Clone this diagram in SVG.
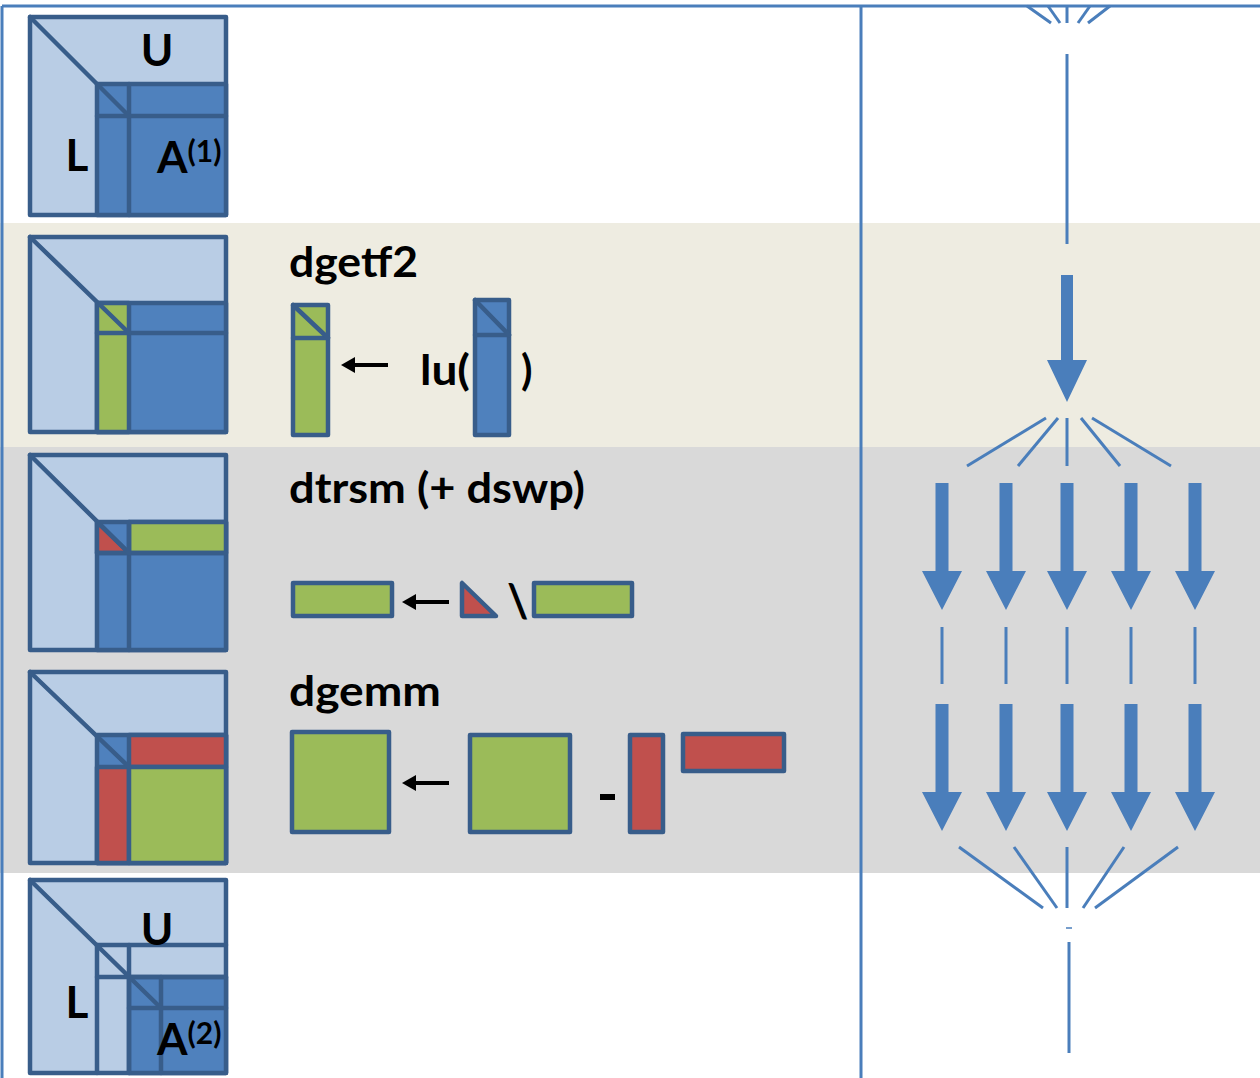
<svg xmlns="http://www.w3.org/2000/svg" width="1260" height="1078" viewBox="0 0 1260 1078">
<style>
.lb{fill:#B9CDE5;stroke:#385D8A;stroke-width:4.5;stroke-linejoin:round}
.mb{fill:#4F81BD;stroke:#385D8A;stroke-width:4.5;stroke-linejoin:round}
.gr{fill:#9BBB59;stroke:#385D8A;stroke-width:4.5;stroke-linejoin:round}
.rd{fill:#C0504D;stroke:#385D8A;stroke-width:4.5;stroke-linejoin:round}
.ln{stroke:#385D8A;stroke-width:4.5;fill:none;stroke-linecap:round}
.t{font-family:Lato,"Open Sans","Liberation Sans",sans-serif;font-weight:bold;fill:#000}
.big{font-size:44px}
.sup{font-size:30px}
.lbl{font-size:42px}
.c{stroke:#4A7EBB;stroke-width:3;fill:none}
.ba{fill:#4A7EBB}
.ar{stroke:#000;stroke-width:4}
</style>
<rect x="0" y="0" width="1260" height="1078" fill="#FFFFFF"/>
<rect x="0" y="223" width="1260" height="224" fill="#EEECE1"/>
<rect x="0" y="447" width="1260" height="426" fill="#D9D9D9"/>
<g id="frame" class="c" stroke="#4F81BD">
<line x1="2" y1="6" x2="1260" y2="6"/>
<line x1="2" y1="6" x2="2" y2="1078"/>
<line x1="861" y1="6" x2="861" y2="1078"/>
</g>
<g id="row1-matrix">
<rect class="lb" x="30" y="17" width="196" height="198"/>
<rect class="mb" x="97" y="84" width="129" height="131"/>
<line class="ln" x1="129" y1="84" x2="129" y2="215"/>
<line class="ln" x1="97" y1="116" x2="226" y2="116"/>
<line class="ln" x1="30" y1="17" x2="129" y2="116"/>
<text class="t big" x="157" y="66" text-anchor="middle">U</text>
<text class="t big" x="77" y="171" text-anchor="middle">L</text>
<text class="t big" x="157" y="173">A<tspan class="sup" dy="-11">(1)</tspan></text>
</g>
<g id="row2-matrix">
<rect class="lb" x="30" y="237" width="196" height="195"/>
<rect class="mb" x="97" y="303" width="129" height="129"/>
<rect class="gr" x="97" y="303" width="32" height="129"/>
<line class="ln" x1="97" y1="333" x2="226" y2="333"/>
<line class="ln" x1="30" y1="237" x2="129" y2="333"/>
</g>
<g id="row2-dgetf2">
<text class="t lbl" x="289" y="277" textLength="129" lengthAdjust="spacingAndGlyphs">dgetf2</text>
<rect class="gr" x="293" y="305" width="35" height="130"/>
<line class="ln" x1="293" y1="338" x2="328" y2="338"/>
<line class="ln" x1="293" y1="305" x2="328" y2="338"/>
<line class="ar" x1="352" y1="365" x2="388" y2="365"/>
<polygon points="341,365 355,357 355,373" fill="#000"/>
<text class="t lbl" x="420" y="385" textLength="50" lengthAdjust="spacingAndGlyphs">lu(</text>
<rect class="mb" x="475" y="300" width="34" height="135"/>
<line class="ln" x1="475" y1="335" x2="509" y2="335"/>
<line class="ln" x1="475" y1="300" x2="509" y2="335"/>
<text class="t lbl" x="521" y="385">)</text>
</g>
<g id="row3-matrix">
<rect class="lb" x="30" y="455" width="196" height="195"/>
<rect class="mb" x="97" y="522" width="129" height="128"/>
<rect class="gr" x="129" y="522" width="97" height="31"/>
<polygon class="rd" points="97,522 97,553 129,553"/>
<line class="ln" x1="129" y1="522" x2="129" y2="650"/>
<line class="ln" x1="97" y1="553" x2="226" y2="553"/>
<line class="ln" x1="30" y1="455" x2="129" y2="553"/>
</g>
<g id="row3-dtrsm">
<text class="t lbl" x="289" y="503" textLength="296" lengthAdjust="spacingAndGlyphs">dtrsm (+ dswp)</text>
<rect class="gr" x="293" y="583" width="99" height="33"/>
<line class="ar" x1="414" y1="602" x2="449" y2="602"/>
<polygon points="402,602 416,594 416,610" fill="#000"/>
<polygon class="rd" points="462,583 462,616 496,616"/>
<text class="t" x="507" y="617" font-size="46">\</text>
<rect class="gr" x="534" y="583" width="98" height="33"/>
</g>
<g id="row4-matrix">
<rect class="lb" x="30" y="672" width="196" height="191"/>
<rect class="mb" x="97" y="735" width="129" height="128"/>
<rect class="rd" x="129" y="735" width="97" height="32"/>
<rect class="rd" x="97" y="767" width="32" height="96"/>
<rect class="gr" x="129" y="767" width="97" height="96"/>
<line class="ln" x1="30" y1="672" x2="129" y2="767"/>
</g>
<g id="row4-dgemm">
<text class="t lbl" x="289" y="706" textLength="152" lengthAdjust="spacingAndGlyphs">dgemm</text>
<rect class="gr" x="292" y="732" width="97" height="100"/>
<line class="ar" x1="414" y1="783" x2="449" y2="783"/>
<polygon points="402,783 416,775 416,791" fill="#000"/>
<rect class="gr" x="470" y="735" width="100" height="97"/>
<rect x="600" y="794" width="15" height="6" fill="#000"/>
<rect class="rd" x="630" y="735" width="33" height="97"/>
<rect class="rd" x="683" y="734" width="101" height="37"/>
</g>
<g id="row5-matrix">
<rect class="lb" x="30" y="880" width="196" height="193"/>
<rect class="mb" x="129" y="977" width="97" height="96"/>
<line class="ln" x1="97" y1="945" x2="226" y2="945"/>
<line class="ln" x1="97" y1="945" x2="97" y2="1073"/>
<line class="ln" x1="129" y1="945" x2="129" y2="1073"/>
<line class="ln" x1="97" y1="977" x2="226" y2="977"/>
<line class="ln" x1="161" y1="977" x2="161" y2="1073"/>
<line class="ln" x1="129" y1="1008" x2="226" y2="1008"/>
<line class="ln" x1="30" y1="880" x2="161" y2="1008"/>
<text class="t big" x="157" y="945" text-anchor="middle">U</text>
<text class="t big" x="77" y="1018" text-anchor="middle">L</text>
<text class="t big" x="157" y="1055">A<tspan class="sup" dy="-11">(2)</tspan></text>
</g>
<g id="connectors">
<g class="c">
<line x1="1027" y1="6" x2="1051" y2="23"/>
<line x1="1048" y1="6" x2="1060" y2="23"/>
<line x1="1067" y1="6" x2="1067" y2="23"/>
<line x1="1090" y1="6" x2="1078" y2="23"/>
<line x1="1110" y1="6" x2="1088" y2="23"/>
<line x1="1067" y1="54" x2="1067" y2="244"/>
<line x1="1046" y1="418" x2="967" y2="466"/>
<line x1="1058" y1="418" x2="1018" y2="466"/>
<line x1="1067" y1="418" x2="1067" y2="466"/>
<line x1="1081" y1="418" x2="1120" y2="466"/>
<line x1="1092" y1="418" x2="1171" y2="466"/>
<line x1="942" y1="627" x2="942" y2="684"/>
<line x1="1006" y1="627" x2="1006" y2="684"/>
<line x1="1067" y1="627" x2="1067" y2="684"/>
<line x1="1131" y1="627" x2="1131" y2="684"/>
<line x1="1195" y1="627" x2="1195" y2="684"/>
<line x1="959" y1="847" x2="1043" y2="908"/>
<line x1="1014" y1="847" x2="1057" y2="908"/>
<line x1="1067" y1="847" x2="1067" y2="908"/>
<line x1="1124" y1="847" x2="1083" y2="908"/>
<line x1="1178" y1="847" x2="1095" y2="908"/>
<line x1="1069" y1="942" x2="1069" y2="1053"/>
</g>
<line x1="1066" y1="928" x2="1072" y2="928" stroke="#4A7EBB" stroke-width="1.5"/>
<polygon class="ba" points="1061,275 1073,275 1073,360 1087,360 1067,402 1047,360 1061,360"/>
<polygon class="ba" points="935.5,483 948.5,483 948.5,571 962,571 942,610 922,571 935.5,571"/>
<polygon class="ba" points="999.5,483 1012.5,483 1012.5,571 1026,571 1006,610 986,571 999.5,571"/>
<polygon class="ba" points="1060.5,483 1073.5,483 1073.5,571 1087,571 1067,610 1047,571 1060.5,571"/>
<polygon class="ba" points="1124.5,483 1137.5,483 1137.5,571 1151,571 1131,610 1111,571 1124.5,571"/>
<polygon class="ba" points="1188.5,483 1201.5,483 1201.5,571 1215,571 1195,610 1175,571 1188.5,571"/>
<polygon class="ba" points="935.5,704 948.5,704 948.5,792 962,792 942,831 922,792 935.5,792"/>
<polygon class="ba" points="999.5,704 1012.5,704 1012.5,792 1026,792 1006,831 986,792 999.5,792"/>
<polygon class="ba" points="1060.5,704 1073.5,704 1073.5,792 1087,792 1067,831 1047,792 1060.5,792"/>
<polygon class="ba" points="1124.5,704 1137.5,704 1137.5,792 1151,792 1131,831 1111,792 1124.5,792"/>
<polygon class="ba" points="1188.5,704 1201.5,704 1201.5,792 1215,792 1195,831 1175,792 1188.5,792"/>
</g>
</svg>
